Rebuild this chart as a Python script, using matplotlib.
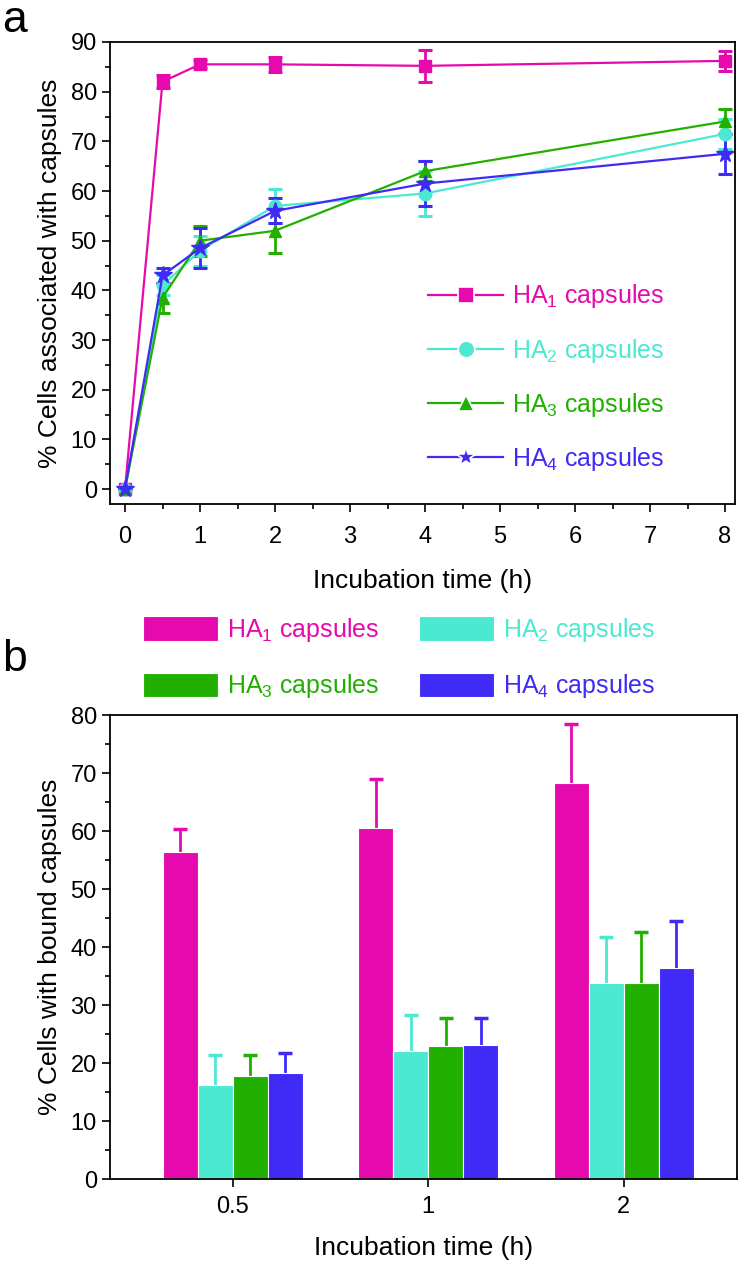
import numpy as np
import matplotlib.pyplot as plt
from matplotlib.ticker import MultipleLocator
from matplotlib.lines import Line2D

plt.rcParams['font.family'] = ['Liberation Sans', 'DejaVu Sans']
plt.rcParams['mathtext.default'] = 'regular'

# panel a data
time_h = [0, 0.5, 1, 2, 4, 8]
ha1_line = [0, 82.0, 85.5, 85.5, 85.2, 86.2]
ha1_line_err = [0, 1.3, 0.8, 1.5, 3.2, 2.0]
ha2_line = [0, 41.0, 48.0, 57.0, 59.5, 71.5]
ha2_line_err = [0, 2.0, 3.0, 3.5, 4.5, 3.0]
ha3_line = [0, 38.5, 50.0, 52.0, 64.0, 74.0]
ha3_line_err = [0, 3.0, 3.0, 4.5, 2.0, 2.5]
ha4_line = [0, 43.0, 48.5, 56.0, 61.5, 67.5]
ha4_line_err = [0, 1.5, 4.0, 2.5, 4.5, 4.0]

# panel b data
bar_times = ['0.5', '1', '2']
ha1_bar = [56.3, 60.6, 68.2]
ha1_bar_err = [4.1, 8.3, 10.3]
ha2_bar = [16.2, 22.1, 33.8]
ha2_bar_err = [5.2, 6.1, 8.0]
ha3_bar = [17.8, 22.9, 33.8]
ha3_bar_err = [3.6, 4.9, 8.8]
ha4_bar = [18.3, 23.1, 36.4]
ha4_bar_err = [3.4, 4.7, 8.1]

labels = ['HA$_1$ capsules', 'HA$_2$ capsules', 'HA$_3$ capsules', 'HA$_4$ capsules']
colors = ['#e60aae', '#4be8d2', '#22b000', '#3f2bf5']
markers = ['s', 'o', '^', '*']

fig = plt.figure(figsize=(7.44, 12.67), dpi=100)
# axes boxes in figure fractions (pixel estimates from the reference)
ax1 = fig.add_axes([110/744, 1 - 504/1267, 625/744, 462/1267])
ax2 = fig.add_axes([110/744, 1 - 1179/1267, 627/744, 464/1267])

lines = [ha1_line, ha2_line, ha3_line, ha4_line]
errs = [ha1_line_err, ha2_line_err, ha3_line_err, ha4_line_err]
for y, e, c, m in zip(lines, errs, colors, markers):
    ms = 13 if m == '*' else 9
    ax1.errorbar(time_h, y, yerr=e, color=c, marker=m, ms=ms, lw=1.6,
                 capsize=5, capthick=2.2, elinewidth=2)

ax1.set_xlim(-0.2, 8.133)
ax1.set_ylim(-3.0, 90)
ax1.xaxis.set_major_locator(MultipleLocator(1))
ax1.xaxis.set_minor_locator(MultipleLocator(0.5))
ax1.yaxis.set_major_locator(MultipleLocator(10))
ax1.yaxis.set_minor_locator(MultipleLocator(5))
ax1.set_xlabel('Incubation time (h)', fontsize=19, labelpad=15)
ax1.set_ylabel('% Cells associated with capsules', fontsize=19, labelpad=6)

handles1 = [Line2D([], [], color=c, marker=m, ms=(15 if m == '*' else 12), lw=1.6,
                   markeredgecolor='white', markeredgewidth=1.2)
            for c, m in zip(colors, markers)]
leg1 = ax1.legend(handles1, labels, loc='lower left', bbox_to_anchor=(0.473, 0.018),
                  frameon=False, fontsize=18, handlelength=3.0, labelspacing=1.05,
                  handletextpad=0.35)
for t, c in zip(leg1.get_texts(), colors):
    t.set_color(c)

# bars
x = np.arange(len(bar_times))
w = 0.179
bars = [ha1_bar, ha2_bar, ha3_bar, ha4_bar]
bar_errs = [ha1_bar_err, ha2_bar_err, ha3_bar_err, ha4_bar_err]
patches = []
for i, (v, e, c) in enumerate(zip(bars, bar_errs, colors)):
    pos = x + (i - 1.5) * w
    b = ax2.bar(pos, v, width=w, color=c, edgecolor='white', linewidth=0.8, zorder=2)
    patches.append(b)
    eb = ax2.errorbar(pos, v, yerr=[np.zeros(len(v)), e], fmt='none', ecolor=c,
                      elinewidth=2, capsize=5, capthick=2.5, zorder=1)
    eb[1][0].set_visible(False)  # only the upper cap

ax2.set_xlim(-0.627, 2.578)
ax2.set_ylim(0, 80)
ax2.set_xticks(x)
ax2.set_xticklabels(bar_times)
ax2.yaxis.set_major_locator(MultipleLocator(10))
ax2.yaxis.set_minor_locator(MultipleLocator(5))
ax2.set_xlabel('Incubation time (h)', fontsize=19, labelpad=13)
ax2.set_ylabel('% Cells with bound capsules', fontsize=19, labelpad=6)

order = [0, 2, 1, 3]
leg2 = ax2.legend([patches[i] for i in order], [labels[i] for i in order],
                  loc='lower left', bbox_to_anchor=(0.017, 0.983), ncol=2, frameon=False,
                  fontsize=18, handlelength=3.0, handleheight=1.15, columnspacing=1.6,
                  handletextpad=0.35, labelspacing=1.15)
for t, i in zip(leg2.get_texts(), order):
    t.set_color(colors[i])

for ax in (ax1, ax2):
    ax.tick_params(which='major', direction='out', length=6, width=1.2, labelsize=17)
    ax.tick_params(which='minor', direction='out', length=3.5, width=1.2)
    for s in ax.spines.values():
        s.set_linewidth(1.3)
ax1.tick_params(axis='x', which='major', pad=10)
ax2.tick_params(axis='x', which='major', pad=6)

fig.text(0.003, 1 - 20/1267, 'a', fontsize=32, va='center')
fig.text(0.003, 1 - 660/1267, 'b', fontsize=32, va='center')

fig.savefig('out.png', dpi=100)
